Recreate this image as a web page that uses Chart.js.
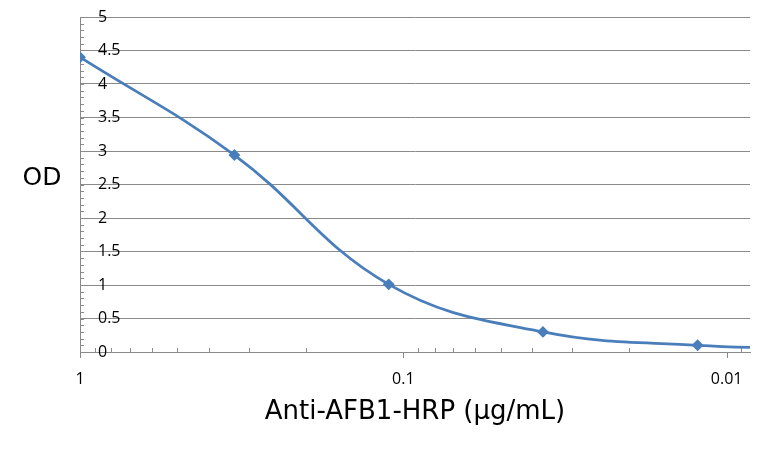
<!DOCTYPE html>
<html lang="en">
<head>
<meta charset="UTF-8">
<title>Anti-AFB1-HRP OD curve</title>
<script src="https://cdn.jsdelivr.net/npm/chart.js@4.4.0/dist/chart.umd.min.js"></script>
<style>
    html, body { margin: 0; padding: 0; background: #fff; }
</style>
</head>
<body>
<canvas id="odChart" width="774" height="469"></canvas>
<script>
    // 3-fold dilution series, ug/mL
    const concentrations = [1, 0.333, 0.111, 0.037, 0.0123, 0.0041];
    const odValues = [4.40, 2.94, 1.01, 0.30, 0.10, 0.04];
    const xMin = 0.00847;
    const xMax = 1;
    const yMax = 5;
    const yStep = 0.5;
    const yMinorStep = 0.1;

    const lineBlue = '#4a7ebb';
    const gridGray = '#8a8a8a';
    const fontFamily = "'Open Sans', 'Noto Sans', sans-serif";
    const titleFamily = "'DejaVu Sans', sans-serif";

    function isDecade(v) {
        const l = Math.log10(v);
        return Math.abs(l - Math.round(l)) < 1e-9;
    }

    // small tick marks like the excel axes
    const tickMarks = {
        id: 'tickMarks',
        beforeDatasetsDraw(chart) {
            const { ctx, chartArea, scales: { x, y } } = chart;
            ctx.save();
            ctx.strokeStyle = gridGray;
            ctx.lineWidth = 1;
            ctx.beginPath();
            for (let e = -3; e <= 0; e++) {
                for (let m = 1; m <= 9; m++) {
                    const v = m * Math.pow(10, e);
                    if (v < xMin || v > xMax + 1e-9) continue;
                    const px = Math.round(x.getPixelForValue(v)) + 0.5;
                    if (m === 1) {
                        ctx.moveTo(px, chartArea.bottom);
                        ctx.lineTo(px, chartArea.bottom + 6);
                    } else {
                        ctx.moveTo(px, chartArea.bottom);
                        ctx.lineTo(px, chartArea.bottom - 4);
                    }
                }
            }
            for (let i = 0; i <= yMax / yMinorStep; i++) {
                const py = Math.round(y.getPixelForValue(i * yMinorStep)) + 0.5;
                ctx.moveTo(chartArea.left, py);
                ctx.lineTo(chartArea.left + 4, py);
            }
            ctx.stroke();
            ctx.fillStyle = '#000';
            ctx.font = '25px ' + titleFamily;
            ctx.textAlign = 'center';
            ctx.textBaseline = 'middle';
            ctx.fillText('OD', 42, 178);
            ctx.restore();
        }
    };

    new Chart(document.getElementById('odChart'), {
        type: 'line',
        data: {
            datasets: [{
                data: concentrations.map((c, i) => ({ x: c, y: odValues[i] })),
                borderColor: lineBlue,
                backgroundColor: lineBlue,
                borderWidth: 2.75,
                tension: 0.4,
                pointStyle: 'rectRot',
                pointRadius: 4,
                pointHoverRadius: 4
            }]
        },
        options: {
            responsive: false,
            devicePixelRatio: 1,
            animation: false,
            layout: { padding: { left: 80, top: 17, right: 24, bottom: 0 } },
            plugins: {
                legend: { display: false },
                tooltip: { enabled: false }
            },
            scales: {
                x: {
                    type: 'logarithmic',
                    reverse: true,
                    min: xMin,
                    max: xMax,
                    grid: { drawOnChartArea: false, drawTicks: false },
                    border: { display: true, color: gridGray, width: 1 },
                    ticks: {
                        autoSkip: false,
                        maxRotation: 0,
                        padding: 18,
                        color: '#000',
                        font: { family: fontFamily, size: 16 },
                        callback: value => isDecade(value) ? String(value) : ''
                    },
                    title: {
                        display: true,
                        text: 'Anti-AFB1-HRP (\u03bcg/mL)',
                        color: '#000',
                        font: { family: titleFamily, size: 26 },
                        padding: { top: 0, bottom: 41 }
                    },
                    afterFit: scale => {
                        scale.height = 117;
                        scale.paddingLeft = 0;
                        scale.paddingRight = 0;
                    }
                },
                y: {
                    min: 0,
                    max: yMax,
                    grid: { color: gridGray, drawTicks: false },
                    border: { display: true, color: gridGray, width: 1 },
                    ticks: {
                        stepSize: yStep,
                        mirror: true,
                        padding: 18,
                        color: '#000',
                        font: { family: fontFamily, size: 16 },
                        callback: value => String(value)
                    },
                    afterFit: scale => {
                        scale.width = 0;
                        scale.paddingTop = 0;
                        scale.paddingBottom = 0;
                    }
                }
            }
        },
        plugins: [tickMarks]
    });
</script>
</body>
</html>
